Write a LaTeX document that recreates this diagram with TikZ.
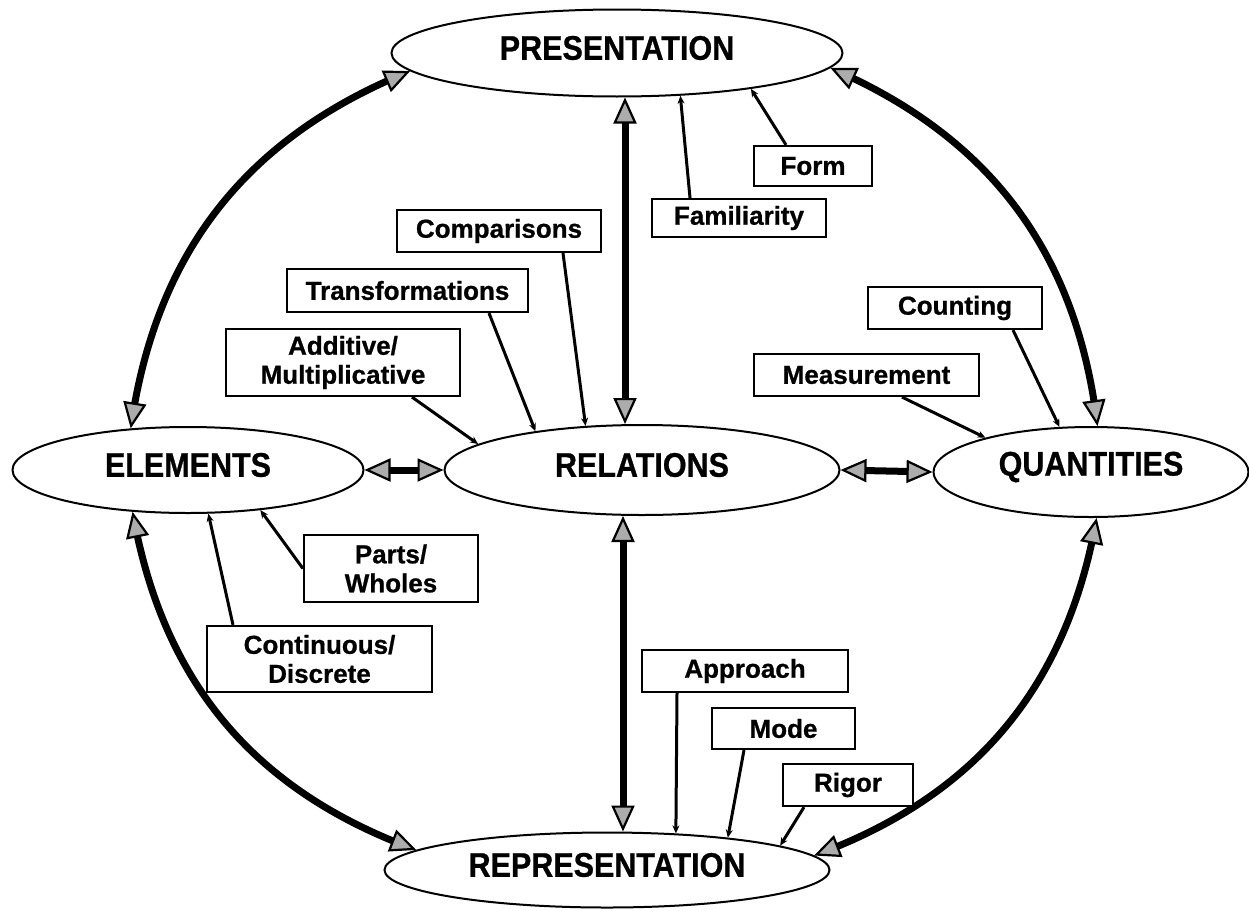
\documentclass[tikz,border=0pt]{standalone}
\usepackage{fontspec}
\usepackage{graphicx}
\setmainfont{Liberation Sans}[BoldFeatures={FakeBold=0.8}]
\usetikzlibrary{arrows.meta,shapes.geometric,bending}
\newcommand{\mainlabel}[1]{\raisebox{5pt}[\height][\depth]{\scalebox{1}[1.12]{#1}}}
\begin{document}
\begin{tikzpicture}[x=1pt,y=1pt,
  mainnode/.style={draw,ellipse,line width=2pt,inner sep=0pt,fill=white,
    font=\fontsize{30.5}{33}\selectfont\bfseries},
  labelbox/.style={draw,rectangle,line width=2.2pt,inner sep=0pt,fill=white,
    align=center,font=\fontsize{26}{29}\selectfont\bfseries},
  bigarrow/.style={line width=7pt,{Triangle[length=26pt,width=23pt,line width=2.2pt,fill=gray!65]}-{Triangle[length=26pt,width=23pt,line width=2.2pt,fill=gray!65]}},
  thinarrow/.style={line width=3pt,-{Stealth[length=8pt,width=7pt]}},
]
\useasboundingbox (0,0) rectangle (1249,-910);

% main ellipses
\node[mainnode,minimum width=451pt,minimum height=87pt] (pres) at (617,-53) {\mainlabel{PRESENTATION}};
\node[mainnode,minimum width=351pt,minimum height=86pt] (elem) at (188,-470) {\mainlabel{ELEMENTS}};
\node[mainnode,minimum width=395pt,minimum height=90pt] (rel) at (642,-470) {\mainlabel{RELATIONS}};
\node[mainnode,minimum width=315pt,minimum height=90pt] (quant) at (1091,-472) {\mainlabel{QUANTITIES}};
\node[mainnode,minimum width=445pt,minimum height=75pt] (rep) at (607,-870) {\mainlabel{REPRESENTATION}};

% helper x positions for vertical arrows
\coordinate (vx) at (625,0);
\coordinate (vy) at (623,0);

% thick double arrows
\draw[bigarrow] (pres.185) to[bend right=30] (elem.144);
\draw[bigarrow] (pres.356.5) to[bend left=30] (quant.82.4);
\draw[bigarrow] (elem.217) to[bend right=30] (rep.174.4);
\draw[bigarrow] (quant.277.6) to[bend left=30] (rep.4.6);
\draw[bigarrow] (pres.south -| vx) -- (rel.north -| vx);
\draw[bigarrow] (rel.south -| vy) -- (rep.north -| vy);
\draw[bigarrow] (elem.east) -- (rel.west);
\draw[bigarrow] (rel.east) -- (quant.west);

% label boxes
\node[labelbox,minimum width=118pt,minimum height=40pt] (form) at (813,-166) {Form};
\node[labelbox,minimum width=174pt,minimum height=38pt] (famil) at (739,-218) {Familiarity};
\node[labelbox,minimum width=204pt,minimum height=42pt] (compar) at (499,-231) {Comparisons};
\node[labelbox,minimum width=241pt,minimum height=43pt] (transf) at (407.5,-290.5) {Transformations};
\node[labelbox,minimum width=234pt,minimum height=67pt] (addit) at (343,-362.5) {Additive/\\Multiplicative};
\node[labelbox,minimum width=174pt,minimum height=42pt] (count) at (955,-308) {Counting};
\node[labelbox,minimum width=225pt,minimum height=42pt] (measur) at (866.5,-375) {Measurement};
\node[labelbox,minimum width=174pt,minimum height=67pt] (parts) at (391,-568.5) {Parts/\\Wholes};
\node[labelbox,minimum width=225pt,minimum height=66pt] (contin) at (319.5,-659) {Continuous/\\Discrete};
\node[labelbox,minimum width=206pt,minimum height=42pt] (approach) at (745,-671) {Approach};
\node[labelbox,minimum width=143pt,minimum height=41pt] (mode) at (783.5,-728.5) {Mode};
\node[labelbox,minimum width=130pt,minimum height=42pt] (rigor) at (848,-785) {Rigor};

% thin connectors
\draw[thinarrow] ([xshift=-27pt]form.north) -- (pres.345.2);
\draw[thinarrow] ([xshift=-49pt]famil.north) -- (pres.326);
\draw[thinarrow] ([xshift=64pt]compar.south) -- (rel.142.4);
\draw[thinarrow] ([xshift=81.5pt]transf.south) -- (rel.160.1);
\draw[thinarrow] ([xshift=69pt]addit.south) -- (rel.171.5);
\draw[thinarrow] ([xshift=58pt]count.south) -- (quant.125.1);
\draw[thinarrow] ([xshift=35.5pt]measur.south) -- (quant.162.6);
\draw[thinarrow] (parts.west) -- (elem.331.8);
\draw[thinarrow] ([xshift=-86.5pt]contin.north) -- (elem.295);
\draw[thinarrow] ([xshift=-68pt]approach.south) -- (rep.28.9);
\draw[thinarrow] ([xshift=-39.5pt]mode.south) -- (rep.15.4);
\draw[thinarrow] ([xshift=-44pt]rigor.south) -- (rep.8.1);
\end{tikzpicture}
\end{document}
